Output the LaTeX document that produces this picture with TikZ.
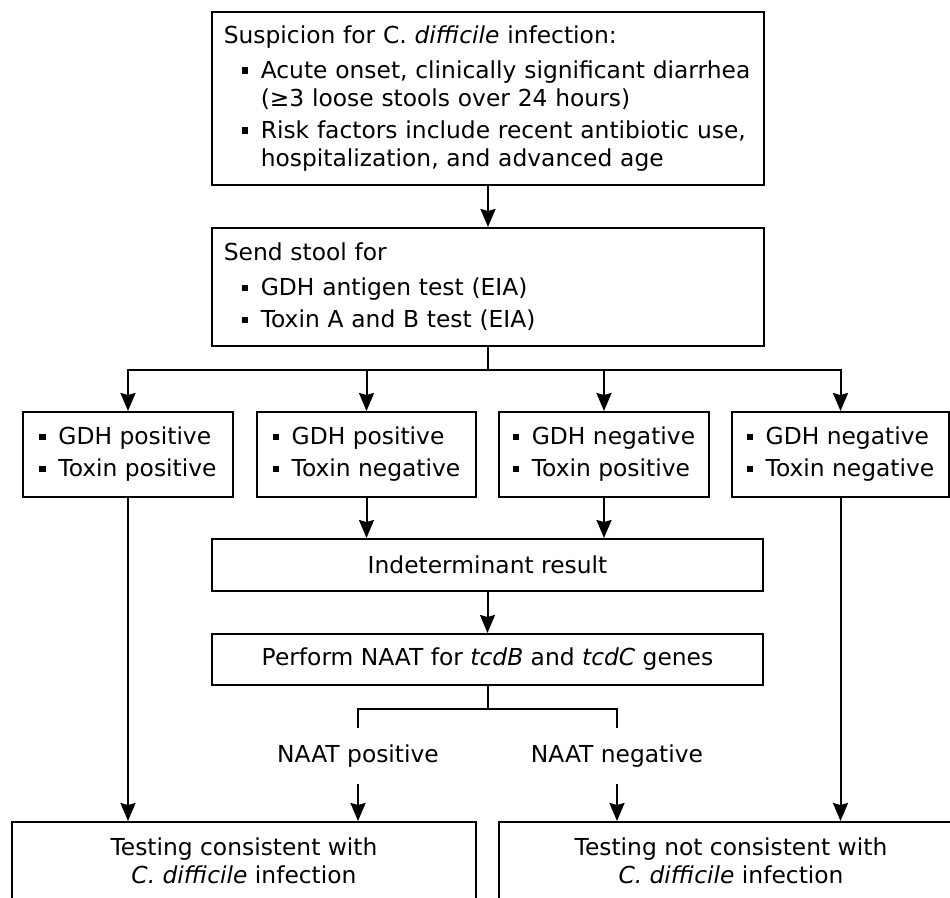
\documentclass[tikz,border=0pt]{standalone}
\usepackage{fontspec}
\setmainfont{DejaVu Sans}
\usepackage{tikz}
\usetikzlibrary{arrows.meta,positioning,calc}

\newcommand{\sqb}{\raisebox{0.2em}{\rule{0.28em}{0.28em}}}
\newcommand{\bl}{\makebox[0.38cm][l]{\sqb}}
\newcommand{\nl}{\hfil\break}
\newcommand{\bitem}[1]{\par\vspace{0.08cm}\hangindent=0.74cm\hangafter=1\noindent\hspace*{0.36cm}\bl#1\par}
\newcommand{\boxtext}{\leftskip=0.14cm\rightskip=0pt plus 1fil\hyphenpenalty=10000}

\begin{document}
\begin{tikzpicture}[x=0.02cm, y=-0.02cm,
    box/.style={draw, line width=0.04cm, inner sep=0pt,
        font=\fontsize{13.3pt}{15.9pt}\selectfont},
    lbl/.style={inner xsep=0pt, inner ysep=0.33cm,
        font=\fontsize{13.3pt}{15.9pt}\selectfont},
    arr/.style={line width=0.04cm, -{Stealth[length=0.36cm, width=0.3cm, inset=0.04cm]}},
    link/.style={line width=0.04cm}]
    \clip (0,0) rectangle (950,898);
    \fill[white] (0,0) rectangle (950,898);

    % Suspicion and tests sent
    \node[box, minimum width=11.04cm, minimum height=3.46cm, text width=10.85cm,
        inner xsep=0.095cm] (susp) at (488,98.5)
        {\boxtext\noindent Suspicion for C.~\textit{difficile} infection:\par\vspace{0.06cm}
         \bitem{Acute onset, clinically significant diarrhea\nl(≥3 loose stools over 24 hours)}
         \bitem{Risk factors include recent antibiotic use,\nl hospitalization, and advanced age}};
    \node[box, minimum width=11.04cm, minimum height=2.36cm, text width=10.85cm,
        inner xsep=0.095cm] (send) at (488,287)
        {\boxtext\noindent Send stool for\par\vspace{0.06cm}
         \bitem{GDH antigen test (EIA)}
         \bitem{Toxin A and B test (EIA)}};
    \draw[arr] (susp) -- (send);

    % Four result combinations
    \node[box, align=left, minimum width=4.2cm, minimum height=1.7cm] (gpp) at (128,454.5)
        {\bl GDH positive\\[0.08cm]\bl Toxin positive};
    \node[box, align=left, minimum width=4.38cm, minimum height=1.7cm] (gpn) at (366.5,454.5)
        {\bl GDH positive\\[0.08cm]\bl Toxin negative};
    \node[box, align=left, minimum width=4.2cm, minimum height=1.7cm] (gnp) at (604,454.5)
        {\bl GDH negative\\[0.08cm]\bl Toxin positive};
    \node[box, align=left, minimum width=4.34cm, minimum height=1.7cm] (gnn) at (840.5,454.5)
        {\bl GDH negative\\[0.08cm]\bl Toxin negative};

    \coordinate (hub) at (488,370);
    \draw[link] (send) -- (hub);
    \foreach \res in {gpp,gpn,gnp,gnn}
        \draw[arr] (hub) -| (\res.north);

    % Indeterminant branch
    \node[box, minimum width=11.02cm, minimum height=1.04cm] (indet) at (487.5,565)
        {Indeterminant result};
    \node[box, minimum width=11.02cm, minimum height=1.02cm] (naat) at (487.5,659.5)
        {Perform NAAT for \textit{tcdB} and \textit{tcdC} genes};
    \draw[arr] (gpn.south) -- (gpn.south |- indet.north);
    \draw[arr] (gnp.south) -- (gnp.south |- indet.north);
    \draw[arr] (indet) -- (naat);

    \node[lbl] (npos) at (358,756) {NAAT positive};
    \node[lbl] (nneg) at (617,756) {NAAT negative};
    \coordinate (fork) at (487.5,709);
    \draw[link] (naat) -- (fork);
    \draw[link] (fork) -| (npos.north);
    \draw[link] (fork) -| (nneg.north);

    % Conclusions
    \node[box, align=center, minimum width=9.28cm, minimum height=1.56cm] (cons) at (244,861)
        {Testing consistent with\\\textit{C. difficile} infection};
    \node[box, align=center, minimum width=9.28cm, minimum height=1.56cm] (notc) at (731,861)
        {Testing not consistent with\\\textit{C. difficile} infection};
    \draw[arr] (gpp.south) -- (gpp.south |- cons.north);
    \draw[arr] (npos.south) -- (npos.south |- cons.north);
    \draw[arr] (nneg.south) -- (nneg.south |- notc.north);
    \draw[arr] (gnn.south) -- (gnn.south |- notc.north);
\end{tikzpicture}
\end{document}
